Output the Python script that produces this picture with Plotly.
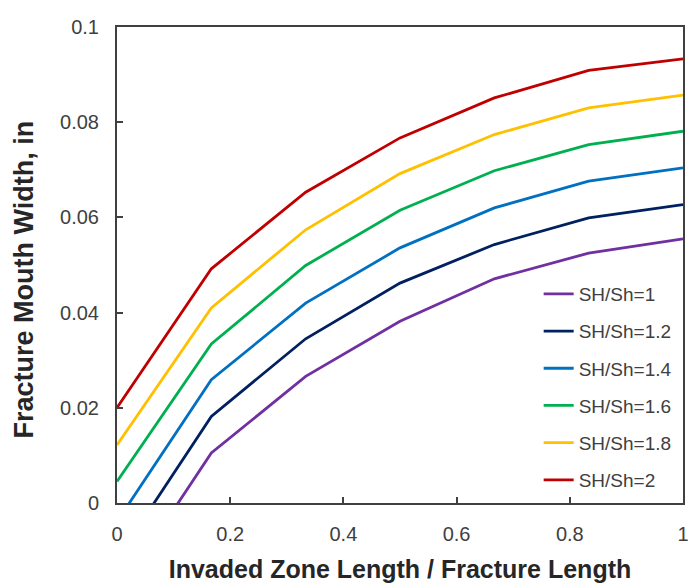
import plotly.graph_objects as go

x_vals = [0, 1/6, 2/6, 3/6, 4/6, 5/6, 1]

series_names = ["SH/Sh=1", "SH/Sh=1.2", "SH/Sh=1.4", "SH/Sh=1.6", "SH/Sh=1.8", "SH/Sh=2"]
sh1 = [-0.0193, 0.0105, 0.0266, 0.0382, 0.0471, 0.0525, 0.0555]
sh12 = [-0.0118, 0.0182, 0.0345, 0.0462, 0.0543, 0.0599, 0.0627]
sh14 = [-0.0039, 0.0259, 0.0420, 0.0536, 0.0620, 0.0676, 0.0704]
sh16 = [0.0045, 0.0334, 0.0499, 0.0615, 0.0698, 0.0753, 0.0781]
sh18 = [0.0122, 0.0410, 0.0574, 0.0692, 0.0774, 0.0830, 0.0857]
sh20 = [0.0200, 0.0492, 0.0653, 0.0767, 0.0851, 0.0909, 0.0933]
series_values = [sh1, sh12, sh14, sh16, sh18, sh20]
colors = ["#7030A0", "#002060", "#0070C0", "#00B050", "#FFC000", "#C00000"]

x_ticks = [0, 0.2, 0.4, 0.6, 0.8, 1]
x_tick_labels = ["0", "0.2", "0.4", "0.6", "0.8", "1"]
y_ticks = [0, 0.02, 0.04, 0.06, 0.08, 0.1]
y_tick_labels = ["0", "0.02", "0.04", "0.06", "0.08", "0.1"]

fig = go.Figure()
for name, vals, col in zip(series_names, series_values, colors):
    fig.add_trace(go.Scatter(x=x_vals, y=vals, mode="lines", name=name,
                             legendgroup=name,
                             line=dict(color=col, width=2.8)))

axis_col = "#404040"
font_fam = "Liberation Sans, Arial, sans-serif"

fig.update_layout(
    width=688, height=583,
    margin=dict(l=117, r=5, t=27, b=80),
    plot_bgcolor="white", paper_bgcolor="white",
    font=dict(family=font_fam, color=axis_col),
    showlegend=True,
    legend=dict(x=0.745, y=0.479, xanchor="left", yanchor="top",
                bgcolor="rgba(0,0,0,0)", font=dict(size=19, color=axis_col),
                tracegroupgap=9.5, traceorder="grouped"),
    xaxis=dict(range=[0, 1], tickvals=x_ticks, ticktext=x_tick_labels,
               showgrid=False, zeroline=False, showline=True, mirror=True,
               linecolor=axis_col, linewidth=2, ticks="inside", ticklen=6,
               tickwidth=2, tickcolor=axis_col, ticklabelstandoff=12,
               automargin=False, ticklabeloverflow="allow",
               tickfont=dict(size=20, color=axis_col),
               title=dict(text="<b>Invaded Zone Length / Fracture Length</b>",
                          font=dict(size=25, color="#262626"), standoff=20)),
    yaxis=dict(range=[0, 0.1], tickvals=y_ticks, ticktext=y_tick_labels,
               showgrid=False, zeroline=False, showline=True, mirror=True,
               linecolor=axis_col, linewidth=2, ticks="inside", ticklen=6,
               tickwidth=2, tickcolor=axis_col, ticklabelstandoff=12,
               automargin=False, ticklabeloverflow="allow",
               tickfont=dict(size=20, color=axis_col)),
    annotations=[dict(text="<b>Fracture Mouth Width, in</b>", textangle=-90,
                      xref="paper", yref="paper", x=-0.164, y=0.47,
                      xanchor="center", yanchor="middle", showarrow=False,
                      font=dict(size=27, color="#262626"))],
)

fig.write_html("out.html")
